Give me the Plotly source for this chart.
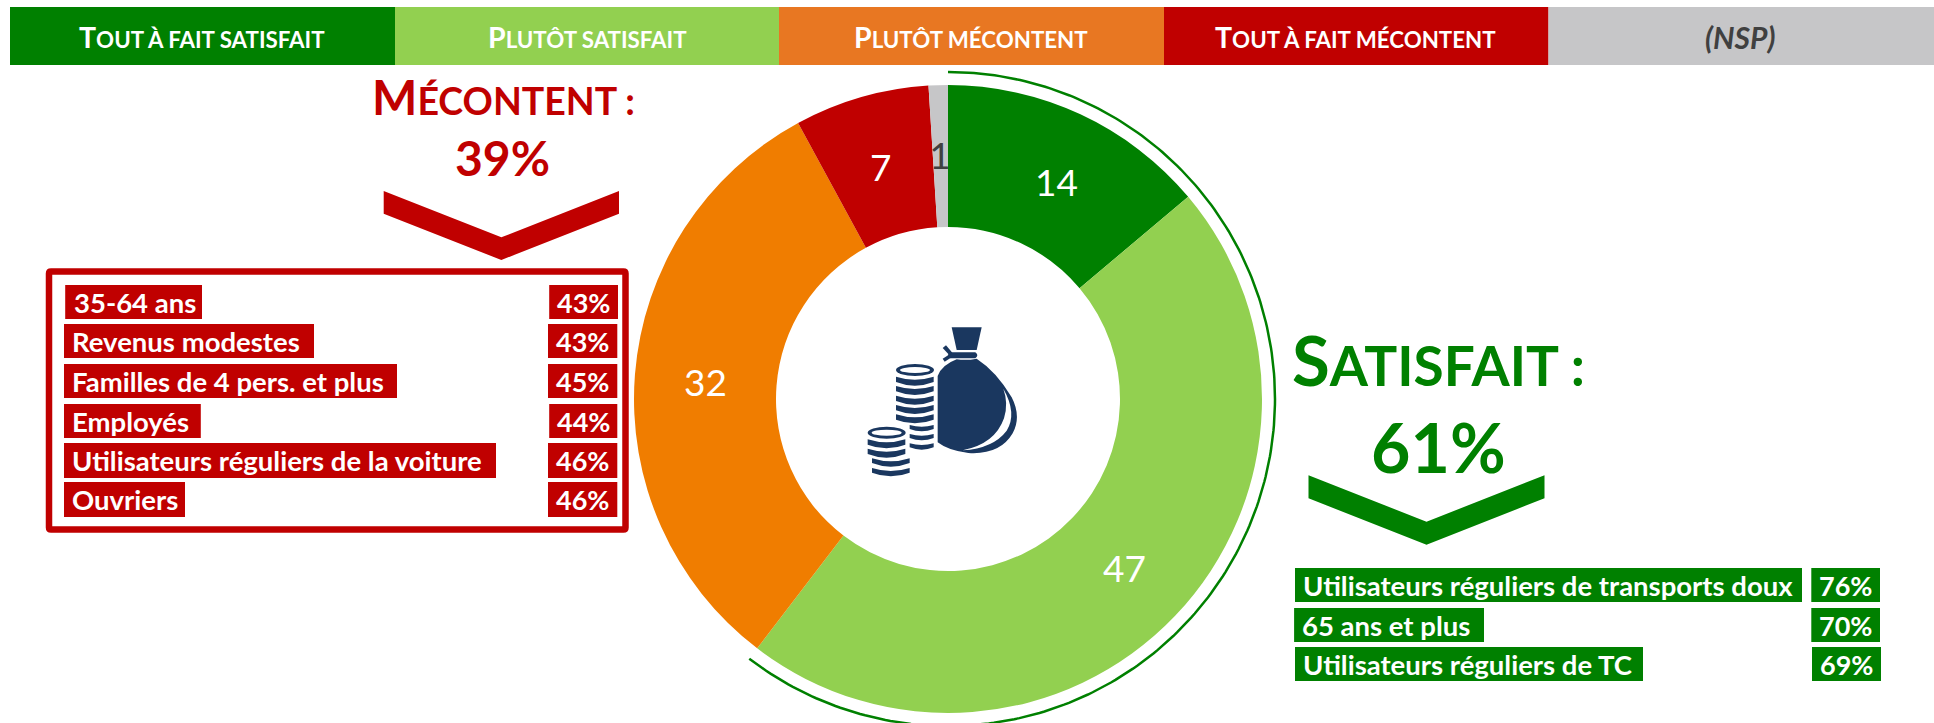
import numpy as np
import plotly.graph_objects as go

W, H = 1934, 723
FONT = "Lato"
GREEN, LIGHT, ORANGE, RED, GREY = "#008000", "#92D050", "#F07D00", "#C00000", "#C6C6C8"
HEAD_ORANGE = "#E87722"
NAVY = "#1A375F"
DARK = "#404040"

# ---- data ----
categories = ["Tout à fait satisfait", "Plutôt satisfait", "Plutôt mécontent", "Tout à fait mécontent", "(NSP)"]
values = [14, 47, 32, 7, 1]
satisfied_total = "61%"
unhappy_total = "39%"
unhappy_groups = ["35-64 ans", "Revenus modestes", "Familles de 4 pers. et plus", "Employés",
                  "Utilisateurs réguliers de la voiture", "Ouvriers"]
unhappy_pct = ["43%", "43%", "45%", "44%", "46%", "46%"]
happy_groups = ["Utilisateurs réguliers de transports doux", "65 ans et plus", "Utilisateurs réguliers de TC"]
happy_pct = ["76%", "70%", "69%"]

# ---- layout geometry (pixels) ----
CX, CY, R, R_IN, R_ARC = 948, 399, 314, 172, 327
head_edges = [10, 395, 779, 1164, 1548.5, 1934]
head_colors = [GREEN, LIGHT, HEAD_ORANGE, RED, GREY]
head_text_x = [202, 587, 971, 1355, 1740]
value_label_xy = [(1056, 181.5), (1124, 567), (705, 381), (880, 166)]
# label box: x0, x1, y0, y1, text x ; pct box: x0, x1
unhappy_boxes = [(65.2, 202, 285, 319, 72.5, 549.2, 618), (64, 314, 324, 358, 71.3, 548, 617.3),
                 (64, 397, 364, 398, 71.3, 548, 617.3), (64, 200.8, 404, 438, 71.3, 549.2, 617.3),
                 (64, 496, 443, 478, 71.3, 548, 617.3), (64, 185, 482, 517, 71.3, 548, 617.3)]
happy_boxes = [(1295, 1802, 568, 602, 1302, 1811.3, 1880), (1294.1, 1484, 608, 642, 1301.2, 1811.3, 1880),
               (1295, 1643, 647, 681, 1302, 1812, 1881)]


def chevron(x0, x1, y0, y1, t, color):
    xm = (x0 + x1) / 2
    return dict(type="path", xref="x", yref="y", fillcolor=color, line_width=0,
                path=f"M{x0} {y0} L{xm} {y1} L{x1} {y0} L{x1} {y0+t} L{xm} {y1+t} L{x0} {y0+t} Z")


def rect(x0, x1, y0, y1, color):
    return dict(type="rect", xref="x", yref="y", x0=x0, x1=x1, y0=y0, y1=y1, fillcolor=color, line_width=0)


def smallcaps(text, big):
    return f'<span style="font-size:{big}px">{text[0].upper()}</span>{text[1:].upper()}'


def note(x, y, text, size, color, anchor="center", weight=700, italic=False):
    return dict(x=x, y=y, xref="x", yref="y", text=text, showarrow=False, xanchor=anchor, yanchor="middle",
                borderpad=0, font=dict(family=FONT, size=size, color=color, weight=weight,
                                       style="italic" if italic else "normal"))


shapes, notes = [], []
for i, c in enumerate(categories):
    shapes.append(rect(head_edges[i], head_edges[i + 1], 7, 65, head_colors[i]))
    if c.startswith("("):
        notes.append(note(head_text_x[i], 37, c, 30, DARK, italic=True))
    else:
        notes.append(note(head_text_x[i], 37, smallcaps(c, 28.5), 22.3, "white"))

# dissatisfied block
notes.append(note(503, 96, smallcaps("Mécontent :", 48), 37.5, RED))
notes.append(note(502, 157, unhappy_total, 48, RED))
shapes.append(chevron(383.7, 619, 191, 237.3, 22.7, RED))
shapes.append(dict(type="path", xref="x", yref="y", fillcolor="rgba(0,0,0,0)", line=dict(color=RED, width=6.5),
                   path="M51 271.5 L623.5 271.5 Q625.5 271.5 625.5 273.5 L625.5 527.5 Q625.5 529.5 623.5 529.5 "
                        "L51 529.5 Q49 529.5 49 527.5 L49 273.5 Q49 271.5 51 271.5 Z"))
for g, p, b in zip(unhappy_groups, unhappy_pct, unhappy_boxes):
    shapes += [rect(b[0], b[1], b[2], b[3], RED), rect(b[5], b[6], b[2], b[3], RED)]
    notes.append(note(b[4], (b[2] + b[3]) / 2, g, 27.5, "white", anchor="left"))
    notes.append(note((b[5] + b[6]) / 2, (b[2] + b[3]) / 2, p, 27, "white"))

# satisfied block
notes.append(note(1438, 359, smallcaps("Satisfait :", 69), 55, GREEN))
notes.append(note(1438, 446, satisfied_total, 68, GREEN))
shapes.append(chevron(1308.5, 1544.5, 475.3, 521.7, 23, GREEN))
for g, p, b in zip(happy_groups, happy_pct, happy_boxes):
    shapes += [rect(b[0], b[1], b[2], b[3], GREEN), rect(b[5], b[6], b[2], b[3], GREEN)]
    notes.append(note(b[4], (b[2] + b[3]) / 2, g, 27.5, "white", anchor="left"))
    notes.append(note((b[5] + b[6]) / 2, (b[2] + b[3]) / 2, p, 27, "white"))

# slice values
for v, (x, y) in zip(values[:4], value_label_xy):
    notes.append(note(x, y, str(v), 37, "white", weight=400))
# the (NSP) value runs under the green slice in the reference: a shape label, then a green patch over it
shapes.append(dict(type="rect", xref="x", yref="y", x0=920, x1=960, y0=134, y1=174,
                   fillcolor="rgba(0,0,0,0)", line_width=0,
                   label=dict(text=str(values[4]), textposition="middle center",
                              font=dict(family=FONT, size=37, color=DARK))))
shapes.append(rect(948, 965, 130, 182, GREEN))


# money icon, drawn in a 3x local grid
def ix(x):
    return 840 + x / 3


def iy(y):
    return 310 + y / 3


def icon_path(cmds, color=NAVY):
    out = []
    for c in cmds:
        if c[0] == "Z":
            out.append("Z")
        else:
            pts = c[1:]
            out.append(c[0] + " ".join(f"{ix(pts[i]):.2f} {iy(pts[i+1]):.2f}" for i in range(0, len(pts), 2)))
    return dict(type="path", xref="x", yref="y", path=" ".join(out), fillcolor=color, line_width=0)


def coin(x0, x1, y, h=20, bow=9):
    m = (x0 + x1) / 2
    return icon_path([("M", x0, y), ("Q", m, y + 2 * bow, x1, y), ("L", x1, y + h - 4),
                      ("Q", m, y + h + 2 * bow, x0, y + h - 4), ("Z",)])


def coin_top(cx, cy):
    return [dict(type="circle", xref="x", yref="y", x0=ix(cx - 57), x1=ix(cx + 57), y0=iy(cy - 18), y1=iy(cy + 18),
                 fillcolor=NAVY, line_width=0),
            dict(type="circle", xref="x", yref="y", x0=ix(cx - 45), x1=ix(cx + 45), y0=iy(cy - 9), y1=iy(cy + 9),
                 fillcolor="white", line_width=0)]


shapes += coin_top(225, 180)
for y in (200, 228, 257, 285, 313):
    shapes.append(coin(168, 281, y))
for y in (345, 372, 400):
    shapes.append(coin(209, 281, y, h=16, bow=5))
shapes += coin_top(140, 368)
for y in (388, 416):
    shapes.append(coin(83, 196, y))
for y in (445, 474):
    shapes.append(coin(96, 209, y, h=18))
shapes.append(icon_path([("M", 335, 52), ("L", 425, 52), ("L", 410, 120), ("L", 350, 120), ("Z",)]))
shapes.append(icon_path([("M", 330, 127), ("L", 406, 127), ("Q", 418, 136, 406, 145), ("L", 330, 145),
                         ("Q", 318, 136, 330, 127), ("Z",)]))
shapes.append(icon_path([("M", 308, 114), ("L", 318, 106), ("L", 337, 128), ("L", 327, 134), ("Z",)]))
shapes.append(icon_path([("M", 308, 146), ("L", 330, 132), ("L", 335, 142), ("L", 314, 155), ("Z",)]))
shapes.append(icon_path([("M", 350, 148), ("Q", 305, 165, 293, 198), ("L", 293, 397), ("Q", 325, 422, 385, 429),
                         ("Q", 480, 435, 518, 370), ("Q", 545, 320, 515, 262), ("Q", 470, 185, 410, 146),
                         ("Q", 380, 152, 350, 148), ("Z",)]))
shapes.append(icon_path([("M", 490, 236), ("Q", 532, 310, 500, 362), ("Q", 460, 415, 368, 421),
                         ("Q", 465, 402, 492, 325), ("Q", 506, 280, 490, 236), ("Z",)], "white"))

# the thin arc around the satisfied share
share = (values[0] + values[1]) / sum(values)
theta = np.linspace(0, 2 * np.pi * share, 240)
arc_x = CX + R_ARC * np.sin(theta)
arc_y = CY - R_ARC * np.cos(theta)

domain = dict(x=[(CX - R) / W, (CX + R) / W], y=[1 - (CY + R) / H, 1 - (CY - R) / H])
colors = [GREEN, LIGHT, ORANGE, RED, GREY]

fig = go.Figure()
fig.add_trace(go.Scatter(x=arc_x, y=arc_y, mode="lines", line=dict(color=GREEN, width=2.5),
                         hoverinfo="skip", showlegend=False))
fig.add_trace(go.Pie(values=values, labels=categories, domain=domain, hole=R_IN / R, sort=False,
                     direction="clockwise", rotation=0, textinfo="none",
                     marker=dict(colors=colors, line=dict(width=0)), showlegend=False))

fig.update_layout(width=W, height=H, margin=dict(l=0, r=0, t=0, b=0), paper_bgcolor="white", plot_bgcolor="white",
                  xaxis=dict(range=[0, W], visible=False, fixedrange=True),
                  yaxis=dict(range=[H, 0], visible=False, fixedrange=True),
                  shapes=shapes, annotations=notes, showlegend=False)
fig.write_html("out.html", config=dict(displayModeBar=False),
               post_script="document.body.style.margin='0';")
